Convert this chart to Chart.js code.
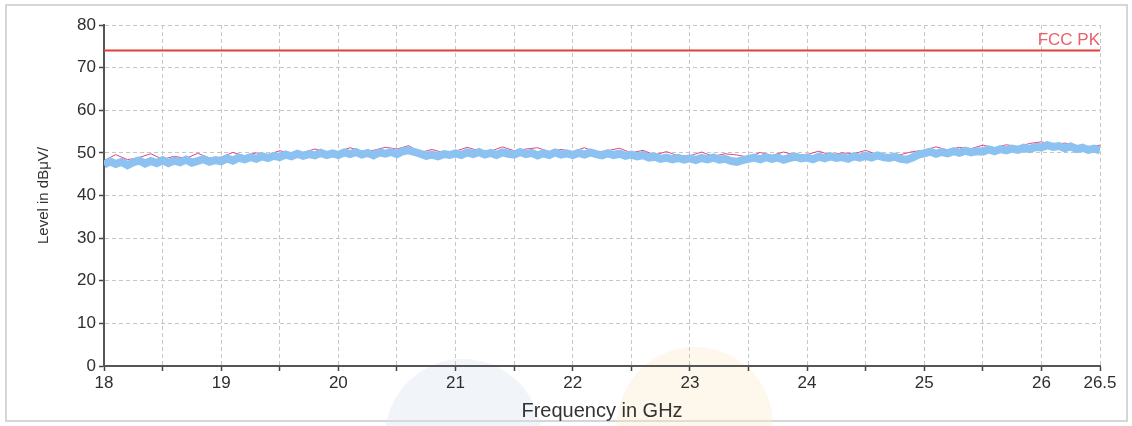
<!DOCTYPE html>
<html>
<head>
<meta charset="utf-8">
<script src="https://cdn.jsdelivr.net/npm/chart.js@4.4.1/dist/chart.umd.min.js"></script>
<style>
    body { margin: 0; background: #fff; }
    #wrap { position: relative; width: 1132px; height: 426px; }
    #frame {
        position: absolute; left: 5px; top: 4px; width: 1119px; height: 414px;
        border: 2px solid #d6d6d6;
    }
    #scan { position: absolute; left: 0; top: 0; }
</style>
</head>
<body>
<div id="wrap">
    <div id="frame"></div>
    <canvas id="scan" width="1132" height="426"></canvas>
</div>
<script>
// sweep 18 - 26.5 GHz
const freqStart = 18;
const freqStop = 26.5;
const avgStep = 0.05;   // GHz between average-trace samples
const peakStep = 0.1;   // GHz between peak-trace samples

const fccLimit = 74;
const fccLabel = 'FCC PK';

// average detector trace, dBuV/m, 18.00 .. 26.50 every 0.05 GHz
const avgLevels = [
    47.2, 48.0, 47.4, 47.9, 47.1, 47.8, 48.2, 47.5, 48.1, 47.6,
    48.3, 47.6, 48.2, 47.8, 48.4, 47.7, 48.1, 48.5, 47.9, 48.3,
    48.0, 48.7, 48.2, 48.9, 48.5, 49.0, 48.6, 49.2, 48.8, 49.3,
    49.0, 49.6, 49.2, 49.8, 49.3, 49.7, 49.4, 50.0, 49.5, 49.9,
    49.5, 50.1, 49.7, 50.2, 49.6, 50.0, 49.4, 50.1, 49.8, 50.2,
    49.7, 50.4, 50.6, 50.2, 49.8, 49.3, 49.6, 49.2, 49.7, 49.5,
    49.9, 49.5, 50.1, 49.7, 50.2, 49.6, 50.0, 49.5, 50.1, 49.8,
    49.6, 50.2, 49.7, 50.0, 49.4, 49.9, 49.5, 50.1, 49.6, 49.9,
    49.5, 50.0, 49.6, 50.1, 49.7, 49.4, 49.9, 49.5, 49.8, 49.3,
    49.6, 49.2, 49.5, 48.9, 49.1, 48.6, 48.9, 48.5, 48.8, 48.4,
    48.7, 48.3, 48.8, 48.5, 48.9, 48.4, 48.6, 48.1, 47.9, 48.3,
    48.6, 48.9, 48.5, 49.0, 48.6, 48.9, 48.4, 48.8, 49.1, 48.7,
    48.9, 48.5, 49.1, 48.7, 49.2, 48.8, 49.0, 48.6, 49.2, 48.9,
    49.3, 48.9, 49.4, 49.0, 48.8, 49.1, 48.6, 48.4, 48.9, 49.6,
    49.9, 50.3, 49.8, 50.2, 49.9, 50.4, 50.0, 50.5, 50.1, 50.4,
    50.3, 50.8, 50.4, 50.9, 50.6, 51.0, 50.7, 51.2, 50.9, 51.4,
    51.3, 51.8, 51.4, 51.6, 51.1, 51.5, 50.9, 51.2, 50.7, 51.0,
    50.6
];

// peak detector trace, 18.0 .. 26.5 every 0.1 GHz
const peakLevels = [
    48.2, 49.6, 48.4, 48.9, 49.8, 48.5, 49.2, 48.7, 49.9, 48.8,
    49.0, 50.1, 49.3, 50.0, 49.6, 50.5, 49.9, 50.1, 50.9, 50.2,
    50.3, 51.2, 50.4, 50.6, 51.3, 50.9, 51.7, 50.1, 50.8, 50.0,
    50.4, 51.3, 50.5, 50.4, 51.4, 50.5, 50.9, 51.2, 50.3, 50.8,
    50.3, 51.2, 50.2, 50.5, 51.1, 50.0, 50.6, 49.5, 50.3, 49.3,
    49.3, 50.2, 49.2, 49.8, 49.5, 49.0, 50.1, 49.4, 50.2, 49.5,
    49.6, 50.4, 49.5, 50.0, 49.8, 50.6, 49.6, 49.4, 49.6, 50.3,
    50.6, 51.4, 50.7, 51.3, 51.0, 51.8, 51.2, 51.9, 51.5, 52.2,
    52.6, 51.9, 52.3, 51.6, 51.4, 51.8
];

function toPoints(levels, start, step) {
    return levels.map(function (v, i) {
        return { x: +(start + i * step).toFixed(2), y: v };
    });
}

// faint round shapes sitting behind the lower part of the plot
const backdrop = {
    id: 'backdrop',
    beforeDraw(chart) {
        const ctx = chart.ctx;
        ctx.save();
        ctx.fillStyle = 'rgba(214, 226, 242, 0.35)';
        ctx.beginPath();
        ctx.arc(463, 437, 78, 0, Math.PI * 2);
        ctx.fill();
        ctx.fillStyle = 'rgba(250, 232, 200, 0.35)';
        ctx.beginPath();
        ctx.arc(695, 425, 78, 0, Math.PI * 2);
        ctx.fill();
        ctx.restore();
    }
};

// limit name written at the right end of the limit line
const limitLabel = {
    id: 'limitLabel',
    afterDatasetsDraw(chart) {
        const ctx = chart.ctx;
        const y = chart.scales.y.getPixelForValue(fccLimit);
        ctx.save();
        ctx.font = '17px "Liberation Sans", Arial, sans-serif';
        ctx.fillStyle = '#e8606a';
        ctx.textAlign = 'right';
        ctx.textBaseline = 'bottom';
        ctx.fillText(fccLabel, chart.chartArea.right, y - 2);
        ctx.restore();
    }
};

const tickFont = { family: '"Liberation Sans", Arial, sans-serif', size: 17 };

new Chart(document.getElementById('scan').getContext('2d'), {
    type: 'line',
    data: {
        datasets: [
            {
                label: fccLabel,
                data: [{ x: freqStart, y: fccLimit }, { x: freqStop, y: fccLimit }],
                borderColor: '#e23d3d',
                borderWidth: 2,
                pointRadius: 0,
                order: 0
            },
            {
                label: 'Average',
                data: toPoints(avgLevels, freqStart, avgStep),
                borderColor: '#8cc2f2',
                borderWidth: 8,
                pointRadius: 0,
                tension: 0,
                order: 1
            },
            {
                label: 'Peak',
                data: toPoints(peakLevels, freqStart, peakStep),
                borderColor: '#e2457c',
                borderWidth: 1,
                pointRadius: 0,
                tension: 0,
                order: 2
            }
        ]
    },
    options: {
        responsive: false,
        animation: false,
        devicePixelRatio: 1,
        layout: { padding: { left: 0, right: 32, top: 25, bottom: 0 } },
        plugins: {
            legend: { display: false },
            tooltip: { enabled: false }
        },
        scales: {
            x: {
                type: 'linear',
                min: freqStart,
                max: freqStop,
                afterFit: function (scale) { scale.height = 60; },
                ticks: {
                    stepSize: 0.5,
                    autoSkip: false,
                    maxRotation: 0,
                    color: '#2e2e2e',
                    font: tickFont,
                    padding: 2,
                    callback: function (v) {
                        return (v % 1 === 0 || v === freqStop) ? String(v) : '';
                    }
                },
                grid: {
                    color: '#c6c6c6',
                    lineWidth: 1,
                    tickColor: '#444',
                    tickLength: 5,
                    tickWidth: 1.5
                },
                border: { color: '#555', width: 2, dash: [4, 3] },
                title: {
                    display: true,
                    text: 'Frequency in GHz',
                    color: '#333',
                    font: { family: '"Liberation Sans", Arial, sans-serif', size: 20 },
                    padding: { top: 0, bottom: 3 }
                }
            },
            y: {
                min: 0,
                max: 80,
                afterFit: function (scale) { scale.width = 104; },
                ticks: {
                    stepSize: 5,
                    color: '#2e2e2e',
                    font: tickFont,
                    padding: 3,
                    callback: function (v) { return v % 10 === 0 ? String(v) : ''; }
                },
                grid: {
                    color: '#c6c6c6',
                    lineWidth: 1,
                    tickColor: '#444',
                    tickLength: 5,
                    tickWidth: 1.5
                },
                border: { color: '#555', width: 2, dash: [4, 3] },
                title: {
                    display: true,
                    text: 'Level in dBμV/',
                    color: '#333',
                    font: { family: '"Liberation Sans", Arial, sans-serif', size: 15 },
                    padding: { top: 35, bottom: 0 }
                }
            }
        }
    },
    plugins: [backdrop, limitLabel]
});
</script>
</body>
</html>
